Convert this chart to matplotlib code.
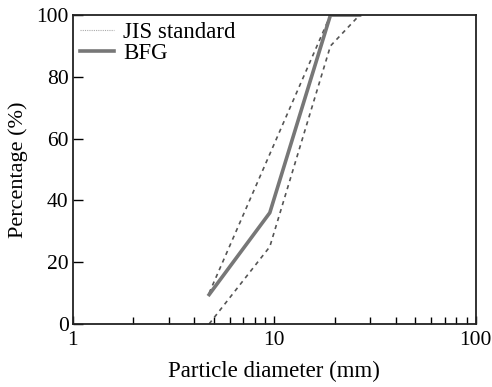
import matplotlib
matplotlib.use('Agg')
import matplotlib.pyplot as plt
from matplotlib.ticker import LogLocator, NullFormatter, FixedLocator

plt.rcParams['font.family'] = ['Liberation Serif', 'DejaVu Serif']

# sieve sizes (mm) and percentage passing
sizes = [4.75, 9.5, 19, 26.5]
jis_upper = [10, 55, 100, 100]
jis_lower = [0, 25, 90, 100]
bfg = [9.5, 36, 100, 100]

fig = plt.figure(figsize=(4.92, 3.87), dpi=100)
ax = fig.add_axes([0.148, 0.163, 0.819, 0.798])

ax.plot(sizes, jis_upper, linestyle=(0, (2.5, 2.5)), color='#555555', lw=1.2,
        label='JIS standard')
ax.plot(sizes, jis_lower, linestyle=(0, (2.5, 2.5)), color='#555555', lw=1.2)
ax.plot(sizes, bfg, color='#777777', lw=2.6, label='BFG')

ax.set_xscale('log')
ax.set_xlim(1, 100)
ax.set_ylim(0, 100)
ax.xaxis.set_major_locator(FixedLocator([1, 10, 100]))
ax.set_xticklabels(['1', '10', '100'])
ax.xaxis.set_minor_locator(LogLocator(base=10, subs=range(2, 10)))
ax.xaxis.set_minor_formatter(NullFormatter())
ax.set_yticks([0, 20, 40, 60, 80, 100])

ax.tick_params(axis='both', which='both', direction='in', labelsize=15.5,
               top=False, right=False, width=1)
ax.tick_params(axis='x', which='major', length=6, pad=5)
ax.tick_params(axis='x', which='minor', length=5)
ax.tick_params(axis='y', which='major', length=7, pad=3)
for s in ax.spines.values():
    s.set_linewidth(1.3)
    s.set_color('#222222')

ax.set_xlabel('Particle diameter (mm)', fontsize=16.5, labelpad=8)
ax.set_ylabel('Percentage (%)', fontsize=16, labelpad=6)

leg = ax.legend(loc='upper left', frameon=False, fontsize=16.5,
                handlelength=1.5, borderaxespad=0.1, labelspacing=0.0,
                handletextpad=0.4, borderpad=0.2)
leg.get_lines()[0].set_color('#aaaaaa')
leg.get_lines()[0].set_linewidth(0.8)
leg.get_lines()[0].set_linestyle((0, (1, 1)))

fig.savefig('out.png', dpi=100)
